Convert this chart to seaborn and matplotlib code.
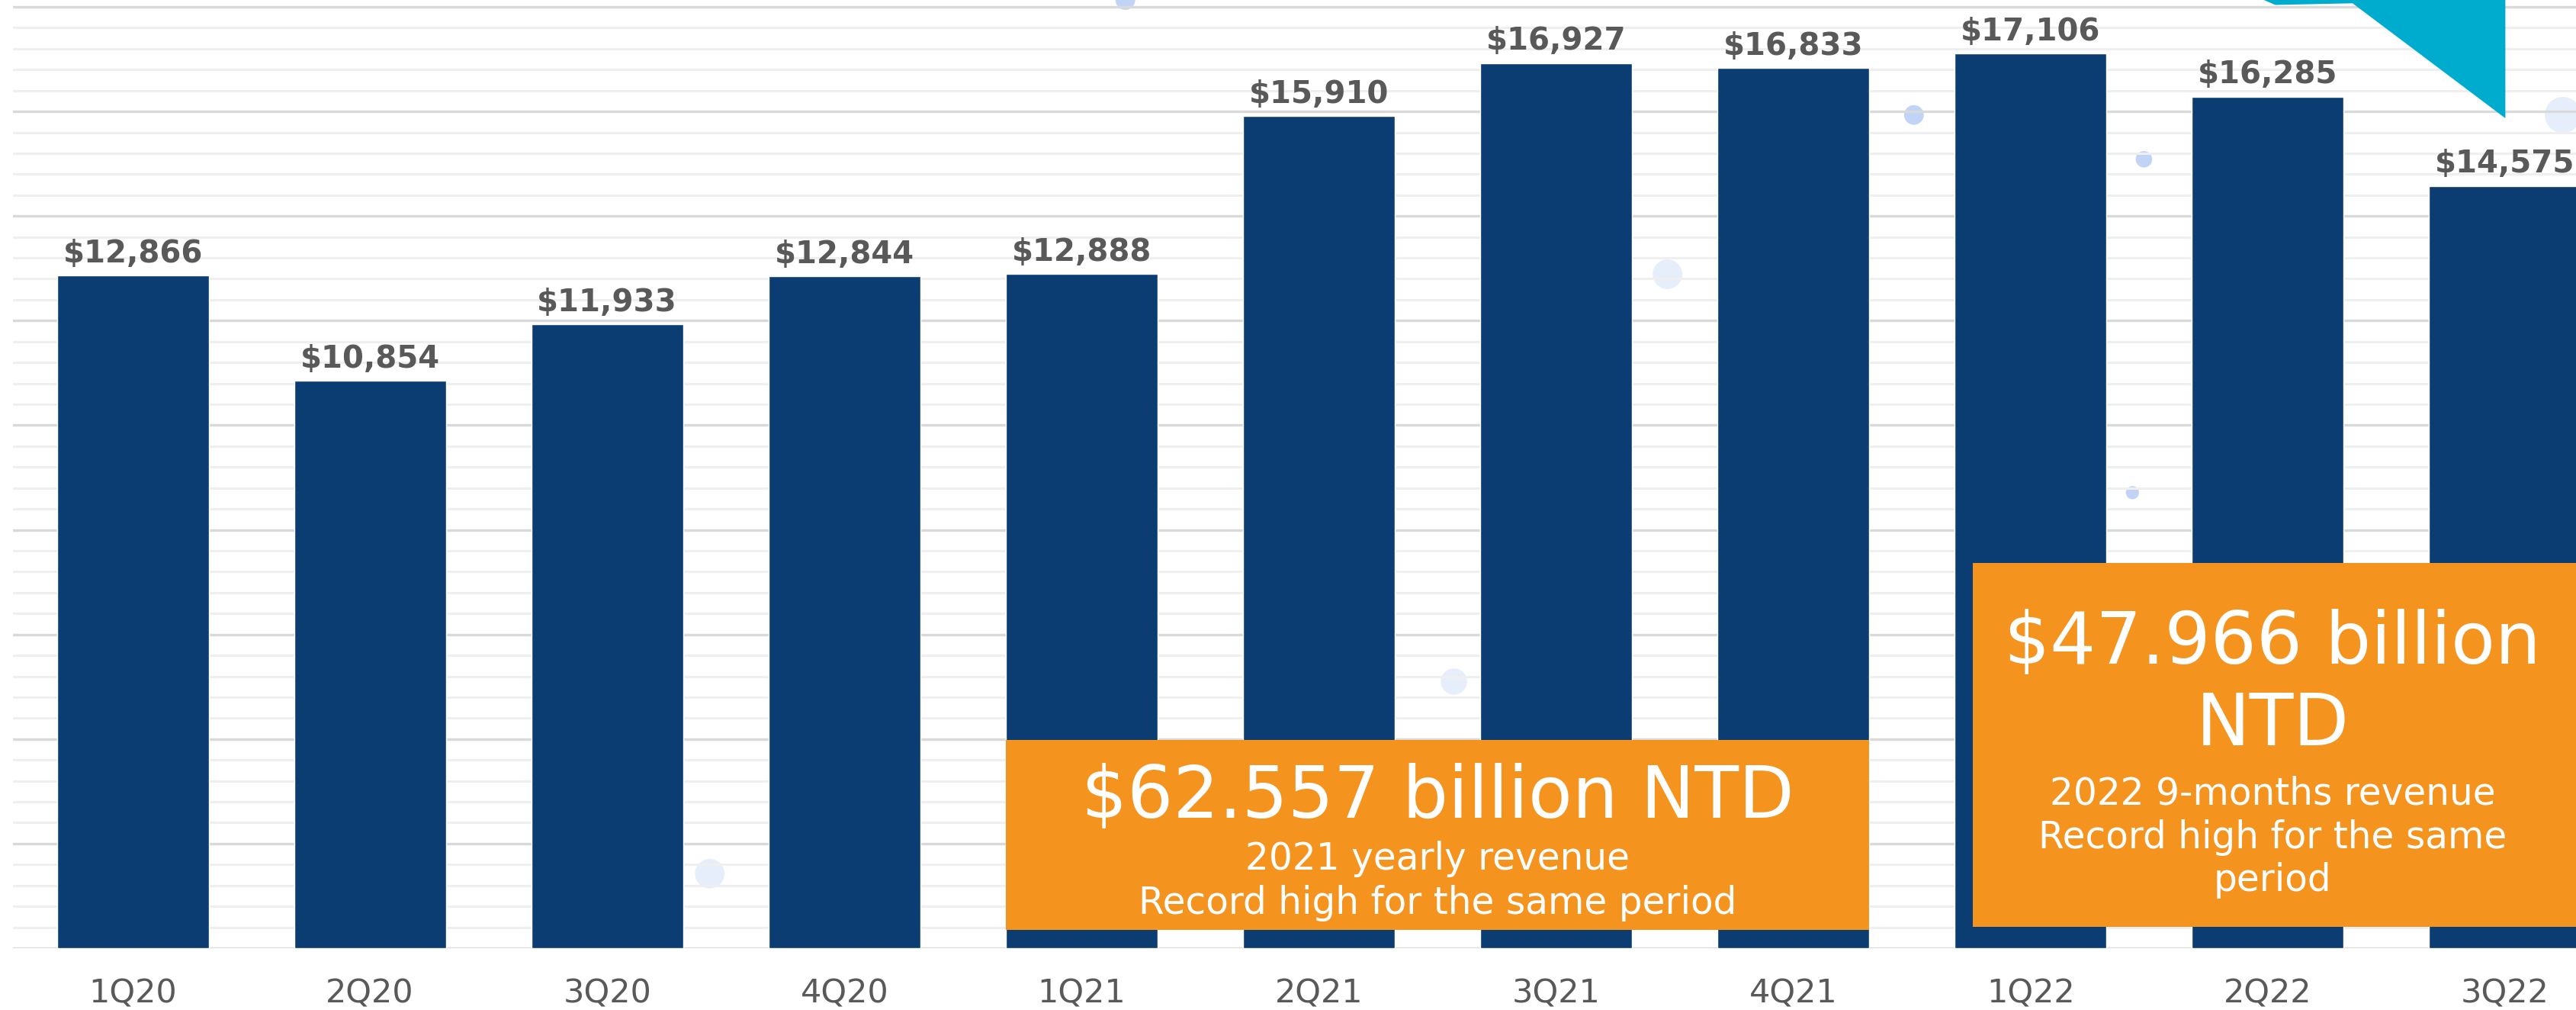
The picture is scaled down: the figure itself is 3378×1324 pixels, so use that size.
import matplotlib
matplotlib.use("Agg")
import matplotlib.pyplot as plt
import seaborn as sns
import pandas as pd
from matplotlib.patches import Rectangle, Polygon, Ellipse

# ---- data ----
quarters = ["1Q20", "2Q20", "3Q20", "4Q20", "1Q21", "2Q21", "3Q21", "4Q21", "1Q22", "2Q22", "3Q22"]
revenue = [12866, 10854, 11933, 12844, 12888, 15910, 16927, 16833, 17106, 16285, 14575]

box1_lines = ["$62.557 billion NTD", "2021 yearly revenue", "Record high for the same period"]
box2_lines = ["$47.966 billion", "NTD", "2022 9-months revenue", "Record high for the same", "period"]

NAVY = "#0b3d73"
ORANGE = "#f5931f"
TEAL = "#00acce"
LABEL_GRAY = "#595959"

sns.set_theme(style="white")
plt.rcParams["font.family"] = ["DejaVu Sans"]

W, H = 3378, 1324
fig = plt.figure(figsize=(W / 100, H / 100), dpi=100)
fig.patch.set_facecolor("white")

# faint background network dots (decoration)
dots = [(685, 0, 6, 0.9), (1165, 70, 6, 0.9), (1305, 97, 5, 0.9), (1298, 300, 4, 0.9),
        (1015, 167, 9, 0.35), (885, 415, 8, 0.35), (432, 532, 9, 0.35), (1560, 70, 11, 0.35)]
for (dx, dy, r, a) in dots:
    fig.add_artist(Ellipse((dx / 1568, 1 - dy / 615), 2 * r / 1568, 2 * r / 615,
                           transform=fig.transFigure, color="#bcd0f5", alpha=a, zorder=-1, lw=0))

left = 17 / W
bottom = 1 - 1243 / H
ax = fig.add_axes([left, bottom, 1 - left, 1243 / H])
ax.set_facecolor("none")

df = pd.DataFrame({"quarter": quarters, "revenue": revenue})
sns.barplot(data=df, x="quarter", y="revenue", color=NAVY, saturation=1, width=0.64, ax=ax, zorder=3)

ax.set_ylim(0, 18131)
ax.set_xlim(-0.505, 10.30)
ax.set_yticks(range(0, 18001, 2000))
ax.set_yticks(range(0, 18001, 400), minor=True)
ax.grid(which="minor", axis="y", color="#efefef", lw=2.2, zorder=0)
ax.grid(which="major", axis="y", color="#d9d9d9", lw=2.4, zorder=0)
ax.grid(False, axis="x")
ax.set_axisbelow(True)
ax.tick_params(axis="y", which="both", left=False, labelleft=False)
ax.tick_params(axis="x", bottom=False, labelsize=31, labelcolor=LABEL_GRAY, pad=22)
for s in ax.spines.values():
    s.set_visible(False)
ax.set_xlabel("")
ax.set_ylabel("")

ax.bar_label(ax.containers[0], labels=[f"${v:,}" for v in revenue], padding=6,
             fontsize=29, fontweight="bold", color=LABEL_GRAY)

# orange annotation boxes
ax.add_patch(Rectangle((3.68, 345), 7.32 - 3.68, 3981 - 345, facecolor=ORANGE, edgecolor="none", zorder=5))
ax.text(5.5, 2880, box1_lines[0], ha="center", va="center", color="white", fontsize=68, zorder=6)
ax.text(5.5, 1700, box1_lines[1], ha="center", va="center", color="white", fontsize=35, zorder=6)
ax.text(5.5, 860, box1_lines[2], ha="center", va="center", color="white", fontsize=35, zorder=6)

ax.add_patch(Rectangle((7.756, 407), 10.30 - 7.756, 7367 - 407, facecolor=ORANGE, edgecolor="none",
                       zorder=5, clip_on=False))
cx2 = 9.02
for txt, yv, fs in zip(box2_lines, [5820, 4260, 2960, 2110, 1300], [68, 68, 35, 35, 35]):
    ax.text(cx2, yv, txt, ha="center", va="center", color="white", fontsize=fs, zorder=6)

# teal corner triangle
tri = [(1378, 0), (1525, 0), (1525, 72), (1432, 2), (1385, 3)]
fig.add_artist(Polygon([(x / 1568, 1 - y / 615) for x, y in tri], closed=True,
                       transform=fig.transFigure, facecolor=TEAL, edgecolor="none", zorder=10))

fig.savefig("out.png", dpi=100)
